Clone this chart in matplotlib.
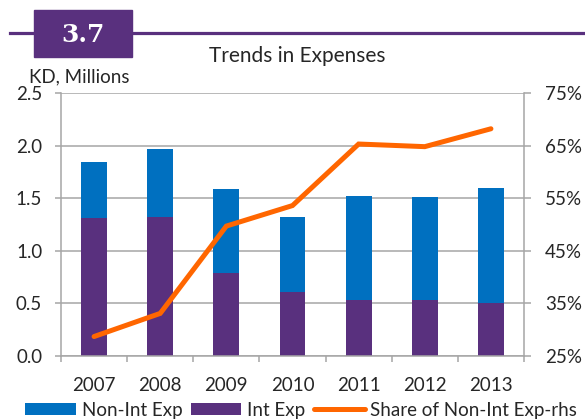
import matplotlib
matplotlib.use("Agg")
import matplotlib.pyplot as plt
from matplotlib.patches import Rectangle
from matplotlib.ticker import FuncFormatter, MultipleLocator, FixedLocator

plt.rcParams["font.family"] = ["Lato", "DejaVu Sans"]

years = ["2007", "2008", "2009", "2010", "2011", "2012", "2013"]
int_exp = [1.31, 1.32, 0.79, 0.61, 0.53, 0.53, 0.50]
non_int_exp = [0.53, 0.65, 0.80, 0.71, 0.99, 0.98, 1.10]
share_non_int = [0.287, 0.331, 0.497, 0.536, 0.653, 0.648, 0.682]
share_ticks = [0.25, 0.35, 0.45, 0.55, 0.65, 0.75]

BLUE = "#0070C0"
PURPLE = "#59307E"
ORANGE = "#FF6600"
GRID = "#A6A6A6"
TEXT = "#262626"
FS = 13.5

fig = plt.figure(figsize=(5.85, 4.19), dpi=100)

# header: purple rule, number box, title
fig.add_artist(plt.Line2D([10 / 585, 1], [1 - 33 / 419] * 2, color=PURPLE, lw=2.3))
fig.add_artist(Rectangle((34 / 585, 1 - 57 / 419), 98 / 585, 47 / 419,
                         transform=fig.transFigure, color=PURPLE, zorder=3))
fig.text(83 / 585, 1 - 35.5 / 419, "3.7", color="white", fontsize=18, fontweight="bold",
         family="DejaVu Serif", ha="center", va="center", zorder=4)
fig.text(297 / 585, 1 - 62 / 419, "Trends in Expenses", fontsize=15, color=TEXT,
         ha="center", va="baseline")
fig.text(29 / 585, 1 - 82 / 419, "KD, Millions", fontsize=FS, color=TEXT,
         ha="left", va="baseline")

ax = fig.add_axes([61 / 585, 1 - 356 / 419, 463 / 585, 263 / 419])
x = list(range(len(years)))
ax.bar(x, int_exp, width=0.39, color=PURPLE, label="Int Exp", zorder=2)
ax.bar(x, non_int_exp, bottom=int_exp, width=0.39, color=BLUE, label="Non-Int Exp", zorder=2)
ax.set_xlim(-0.5, len(years) - 0.5)
ax.set_ylim(0, 2.5)
ax.yaxis.set_major_locator(MultipleLocator(0.5))
ax.yaxis.set_major_formatter(FuncFormatter(lambda v, p: f"{v:.1f}"))
ax.grid(axis="y", color=GRID, lw=1.1, zorder=0)
ax.set_axisbelow(True)
ax.set_xticks(x)
ax.set_xticklabels(years)
ax.xaxis.set_minor_locator(FixedLocator([i - 0.5 for i in range(len(years) + 1)]))
ax.tick_params(axis="x", which="major", length=0, pad=15, labelsize=FS, labelcolor=TEXT)
ax.tick_params(axis="x", which="minor", length=4.5, width=1.1, color=GRID)
ax.tick_params(axis="y", length=4.5, width=1.1, color=GRID, pad=9, labelsize=FS, labelcolor=TEXT)
for side in ["left", "right", "bottom"]:
    ax.spines[side].set_color(GRID)
    ax.spines[side].set_linewidth(1.1)
ax.spines["top"].set_visible(False)

ax2 = ax.twinx()
ax2.plot(x, share_non_int, color=ORANGE, lw=3.6, solid_capstyle="round",
         solid_joinstyle="miter", label="Share of Non-Int Exp-rhs", zorder=3)
ax2.set_ylim(0.25, 0.75)
ax2.yaxis.set_major_locator(FixedLocator(share_ticks))
ax2.yaxis.set_major_formatter(FuncFormatter(lambda v, p: f"{v * 100:.0f}%"))
ax2.tick_params(axis="y", length=5, width=1.1, color=GRID, pad=10, labelsize=FS, labelcolor=TEXT)
for side in ["left", "right", "bottom", "top"]:
    ax2.spines[side].set_visible(False)

h1, l1 = ax.get_legend_handles_labels()
h2, l2 = ax2.get_legend_handles_labels()
handles = [h1[1], h1[0], h2[0]]
labels = [l1[1], l1[0], l2[0]]
fig.legend(handles, labels, loc="center left", bbox_to_anchor=(25 / 585, 1 - 410 / 419),
           ncol=3, frameon=False, fontsize=FS, labelcolor=TEXT, borderpad=0,
           borderaxespad=0, handlelength=2.7, handleheight=0.6, handletextpad=0.32,
           columnspacing=0.45)

fig.savefig("out.png", dpi=100)
